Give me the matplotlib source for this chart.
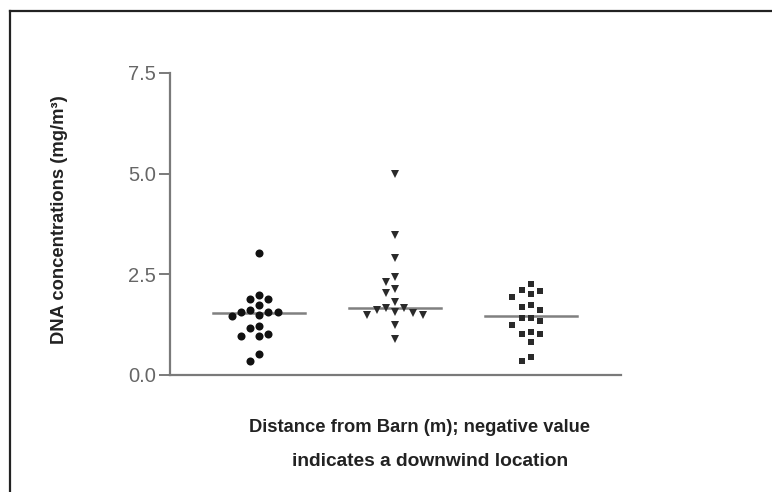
import numpy as np
import matplotlib
matplotlib.use("Agg")
import matplotlib.pyplot as plt
from matplotlib.lines import Line2D

# ---- data ----
group_positions = [1, 2, 3]
group1 = [3.04, 1.99, 1.88, 1.88, 1.74, 1.61, 1.56, 1.56, 1.56, 1.50, 1.47,
          1.22, 1.16, 1.02, 0.97, 0.97, 0.52, 0.36]
group2 = [4.99, 3.48, 2.90, 2.43, 2.32, 2.14, 2.03, 1.82, 1.67, 1.67, 1.62,
          1.57, 1.55, 1.49, 1.49, 1.24, 0.89]
group3 = [2.25, 2.11, 2.09, 2.01, 1.94, 1.75, 1.70, 1.61, 1.42, 1.42, 1.34,
          1.24, 1.08, 1.02, 1.02, 0.83, 0.44, 0.36]
medians = [1.54, 1.66, 1.46]
y_ticks = [0.0, 2.5, 5.0, 7.5]
y_label = "DNA concentrations (mg/m³)"
x_label_1 = "Distance from Barn (m); negative value"
x_label_2 = "indicates a downwind location"


def swarm_offsets(values, min_dy, lane_w):
    """Greedy lane placement: each point goes to the nearest lane free of overlap."""
    v = np.asarray(values, float)
    order = np.argsort(-v, kind="stable")
    lane_order = [0]
    for k in range(1, 10):
        lane_order += [-k, k]
    placed = {}
    off = np.zeros(len(v))
    for i in order:
        for ln in lane_order:
            if all(abs(v[i] - y) >= min_dy for y in placed.get(ln, [])):
                placed.setdefault(ln, []).append(v[i])
                off[i] = ln * lane_w
                break
    return off


fig = plt.figure(figsize=(7.72, 4.92), dpi=100)
ax = fig.add_axes([170 / 772, 1 - 375 / 492, 451 / 772, 302 / 492])

styles = [dict(marker="o", ms=5.8, color="#111111"),
          dict(marker="v", ms=5.2, color="#2a2a2a"),
          dict(marker="s", ms=4.2, color="#2a2a2a")]
for pos, vals, st in zip(group_positions, [group1, group2, group3], styles):
    xo = swarm_offsets(vals, 0.2, 0.068)
    ax.plot(pos + xo, vals, linestyle="none", marker=st["marker"],
            markersize=st["ms"], color=st["color"], markeredgewidth=0)

for pos, m in zip(group_positions, medians):
    ax.plot([pos - 0.34, pos + 0.34], [m, m], color="#808080", lw=1.8, zorder=1)

ax.set_xlim(0.343, 3.664)
ax.set_ylim(0, 7.5)
ax.set_yticks(y_ticks)
ax.set_yticklabels([f"{t:.1f}" for t in y_ticks])
ax.set_xticks([])
for s in ["top", "right"]:
    ax.spines[s].set_visible(False)
for s in ["left", "bottom"]:
    ax.spines[s].set_color("#7a7a7a")
    ax.spines[s].set_linewidth(1.6)
ax.tick_params(axis="y", length=8, width=1.4, color="#7a7a7a", pad=2,
               labelsize=14.5, labelcolor="#666666")
for lab in ax.get_yticklabels():
    lab.set_family("Liberation Sans")

fig.text(60 / 772, 1 - 220 / 492, y_label, rotation=90, ha="center", va="center",
         fontsize=13.2, fontweight="bold", family="Liberation Sans", color="#222222")
fig.text(419 / 772, 1 - 427 / 492, x_label_1, ha="center", va="center",
         fontsize=13.2, fontweight="bold", family="Liberation Sans", color="#222222")
fig.text(430 / 772, 1 - 462 / 492, x_label_2, ha="center", va="center",
         fontsize=13.8, fontweight="bold", family="Liberation Sans", color="#222222")

# outer frame (top and left edges)
fig.add_artist(Line2D([9.5 / 772, 1], [1 - 11 / 492, 1 - 11 / 492],
                      transform=fig.transFigure, color="#222222", lw=1.6))
fig.add_artist(Line2D([9.5 / 772, 9.5 / 772], [0, 1 - 11 / 492],
                      transform=fig.transFigure, color="#222222", lw=1.6))

fig.savefig("out.png", dpi=100)
